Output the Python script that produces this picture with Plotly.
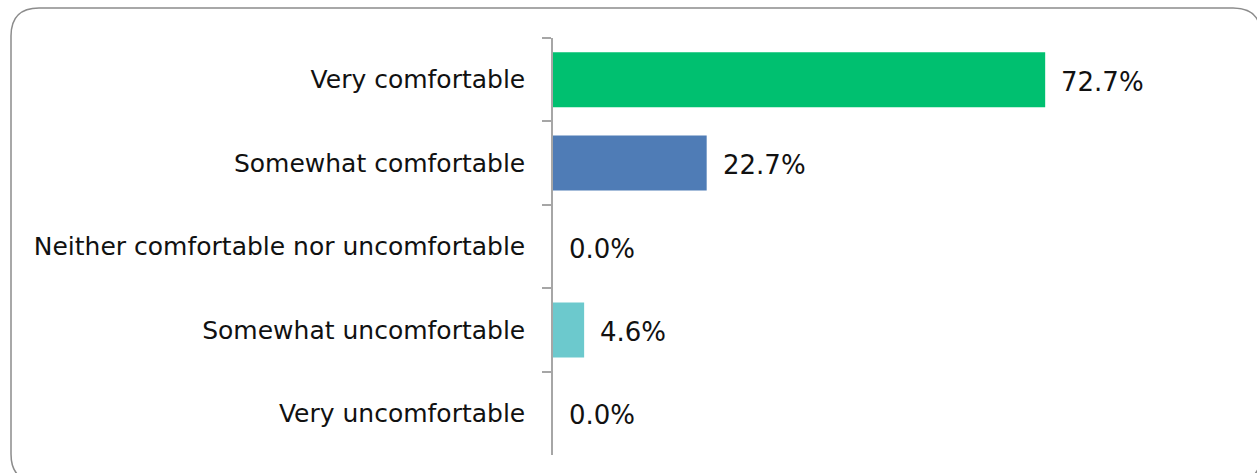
import plotly.graph_objects as go

categories = [
    "Very comfortable",
    "Somewhat comfortable",
    "Neither comfortable nor uncomfortable",
    "Somewhat uncomfortable",
    "Very uncomfortable",
]
values = [72.7, 22.7, 0.0, 4.6, 0.0]
bar_colors = ["#00C070", "#4F7CB6", "#4F7CB6", "#6CC9CD", "#6CC9CD"]

FONT = "DejaVu Sans, Arial, sans-serif"

W, H = 1257, 473
L, R, T, B = 553, 27, 38, 18
PW, PH = W - L - R, H - T - B


def px(x):
    return (x - L) / PW


def py(y):
    return (H - B - y) / PH


def rounded_rect(x0, y0, x1, y1, r):
    pts = [
        f"M {px(x0 + r)},{py(y0)}",
        f"L {px(x1 - r)},{py(y0)}",
        f"Q {px(x1)},{py(y0)} {px(x1)},{py(y0 + r)}",
        f"L {px(x1)},{py(y1 - r)}",
        f"Q {px(x1)},{py(y1)} {px(x1 - r)},{py(y1)}",
        f"L {px(x0 + r)},{py(y1)}",
        f"Q {px(x0)},{py(y1)} {px(x0)},{py(y1 - r)}",
        f"L {px(x0)},{py(y0 + r)}",
        f"Q {px(x0)},{py(y0)} {px(x0 + r)},{py(y0)}",
        "Z",
    ]
    return " ".join(pts)


fig = go.Figure(
    go.Bar(
        x=values,
        y=categories,
        orientation="h",
        marker=dict(color=bar_colors, line=dict(width=0)),
        width=0.66,
        hoverinfo="skip",
    )
)

for cat, v in zip(categories, values):
    fig.add_annotation(
        x=v, y=cat, text=f"{v:.1f}%", showarrow=False,
        xanchor="left", xshift=14, yshift=-2,
        font=dict(family=FONT, size=26, color="#111111"),
    )

fig.add_shape(
    type="path", xref="paper", yref="paper",
    path=rounded_rect(11, 8, 1261, 482, 28),
    line=dict(color="#8C8C8C", width=1.5),
    fillcolor="rgba(0,0,0,0)", layer="below",
)

fig.update_layout(
    width=W, height=H,
    margin=dict(l=L, r=R, t=T, b=B),
    paper_bgcolor="white", plot_bgcolor="white",
    showlegend=False,
    bargap=0.34,
    xaxis=dict(range=[0, 100], visible=False, fixedrange=True),
    yaxis=dict(
        categoryorder="array", categoryarray=categories,
        autorange="reversed",
        showline=True, linecolor="#A6A6A6", linewidth=1.5,
        ticks="outside", ticklen=9, tickcolor="#A6A6A6", tickwidth=1.5,
        tickson="boundaries",
        showgrid=False, zeroline=False,
        ticklabelstandoff=21,
        tickfont=dict(family=FONT, size=25, color="#111111"),
    ),
)

fig.write_html("out.html")
